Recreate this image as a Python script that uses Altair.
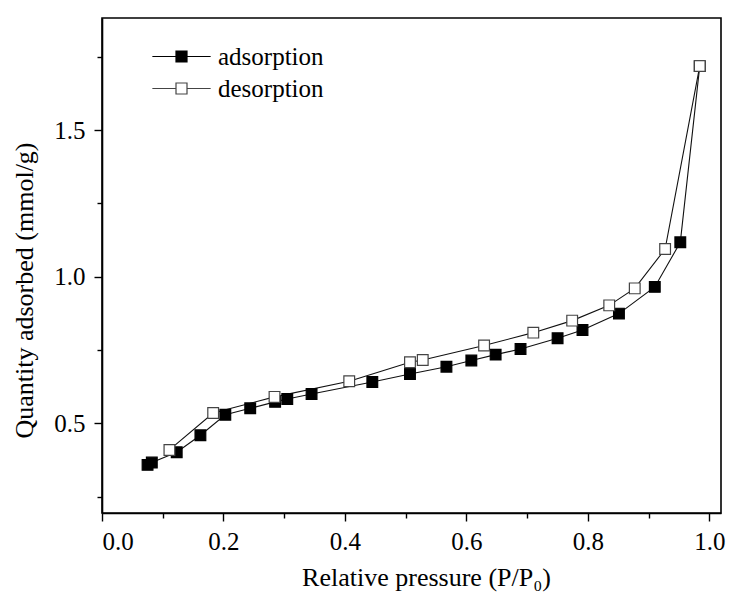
import altair as alt
import pandas as pd

# Adsorption branch (filled squares)
ads_p = [0.075, 0.082, 0.123, 0.162, 0.203, 0.244, 0.285, 0.305, 0.345, 0.445,
         0.507, 0.567, 0.608, 0.648, 0.689, 0.750, 0.791, 0.851, 0.910, 0.952, 0.984]
ads_q = [0.358, 0.366, 0.401, 0.459, 0.529, 0.551, 0.573, 0.583, 0.600, 0.641,
         0.668, 0.693, 0.714, 0.734, 0.753, 0.790, 0.818, 0.874, 0.965, 1.117, 1.718]

# Desorption branch (open squares)
des_p = [0.984, 0.927, 0.877, 0.835, 0.774, 0.710, 0.629, 0.528, 0.507, 0.407,
         0.284, 0.183, 0.111]
des_q = [1.718, 1.094, 0.960, 0.902, 0.850, 0.809, 0.765, 0.716, 0.708, 0.643,
         0.590, 0.535, 0.409]

series_names = ["adsorption", "desorption"]
x_ticks = [0.0, 0.1, 0.2, 0.3, 0.4, 0.5, 0.6, 0.7, 0.8, 0.9, 1.0]
y_ticks = [0.25, 0.5, 0.75, 1.0, 1.25, 1.5, 1.75]

df = pd.concat([
    pd.DataFrame({"p": ads_p, "q": ads_q, "series": series_names[0], "order": 0}),
    pd.DataFrame({"p": des_p, "q": des_q, "series": series_names[1], "order": 1}),
], ignore_index=True)

FONT = "Liberation Serif, Times New Roman, Times, serif"

x_enc = alt.X(
    "p:Q",
    scale=alt.Scale(domain=[0, 1.019], nice=False, zero=False),
    axis=alt.Axis(
        values=x_ticks,
        labelExpr="round(datum.value*10) % 2 == 0 ? format(datum.value, '.1f') : ''",
        tickSize={"condition": {"test": "round(datum.value*10) % 2 == 1", "value": 5}, "value": 8},
        title="Relative pressure (P/P₀)",
        titlePadding=10,
        titleX=324,
        labelPadding=8,
    ),
)
y_enc = alt.Y(
    "q:Q",
    scale=alt.Scale(domain=[0.194, 1.882], nice=False, zero=False),
    axis=alt.Axis(
        values=y_ticks,
        labelExpr="round(datum.value*4) % 2 == 0 ? format(datum.value, '.1f') : ''",
        tickSize={"condition": {"test": "round(datum.value*4) % 2 == 1", "value": 5}, "value": 8},
        title="Quantity adsorbed (mmol/g)",
        titlePadding=16,
        titleY=272,
        labelPadding=9,
    ),
)

base = alt.Chart(df)

lines = base.mark_line(strokeWidth=1.1, color="#111").encode(
    x=x_enc, y=y_enc, detail="series:N", order="p:Q"
)

legend_path = "M -5.3 0 L -1 0 M 1 0 L 5.3 0 M -1 -1 L 1 -1 L 1 1 L -1 1 Z"

points = base.mark_point(shape="square", filled=True, size=115, strokeWidth=1.2, opacity=1).encode(
    x=x_enc,
    y=y_enc,
    fill=alt.Fill(
        "series:N",
        scale=alt.Scale(domain=series_names, range=["#000000", "#ffffff"]),
        legend=alt.Legend(
            title=None,
            orient="none",
            legendX=67,
            legendY=26,
            symbolType=legend_path,
            symbolSize=121,
            symbolStrokeColor="#222",
            symbolStrokeWidth=1.2,
            labelOffset=24,
            labelFont=FONT,
            labelFontSize=25,
            labelColor="#000",
            rowPadding=6,
            padding=0,
        ),
    ),
    stroke=alt.Stroke(
        "series:N",
        scale=alt.Scale(domain=series_names, range=["#000000", "#444444"]),
        legend=None,
    ),
    order="order:Q",
)

chart = (
    alt.layer(lines, points)
    .properties(
        width=619,
        height=495,
        autosize=alt.AutoSizeParams(type="none"),
        padding={"left": 102, "top": 18, "right": 10, "bottom": 86},
        background="white",
    )
    .configure_view(stroke="#000", strokeWidth=1.6)
    .configure_axis(
        grid=False,
        domainColor="#000",
        domainWidth=1.6,
        tickColor="#000",
        tickWidth=1.4,
        labelFont=FONT,
        labelFontSize=25,
        labelColor="#000",
        titleFont=FONT,
        titleFontSize=26,
        titleFontWeight="normal",
        titleColor="#000",
    )
)

chart.save("out.html", embed_options={"renderer": "svg", "actions": False})
